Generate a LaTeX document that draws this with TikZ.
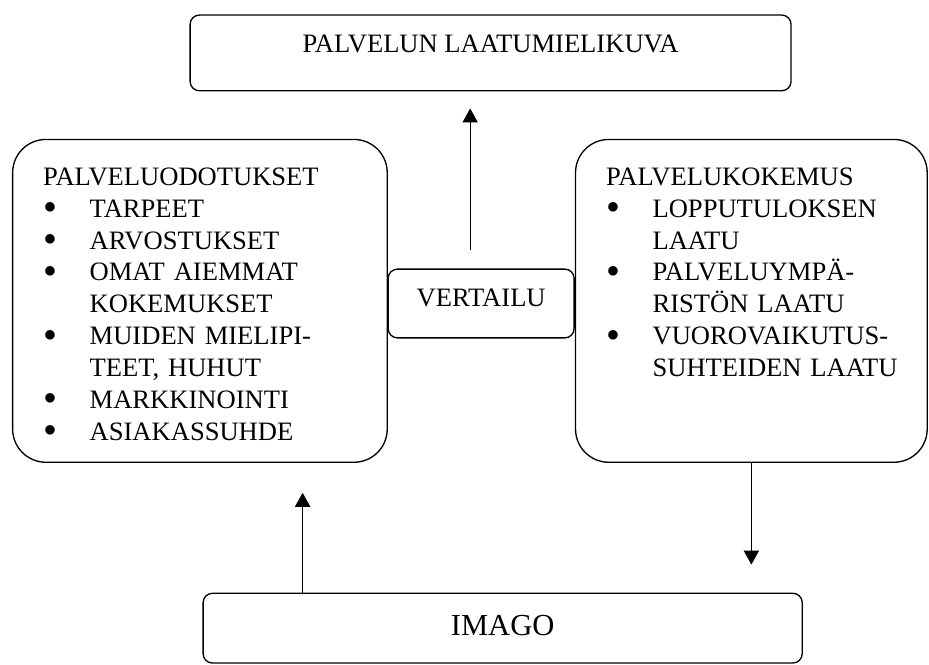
\documentclass[tikz,border=0pt]{standalone}
\usepackage{fontspec}
\usepackage{graphicx}
\setmainfont{Liberation Serif}
\usetikzlibrary{arrows.meta}
\newcommand{\bodyfont}{\fontsize{20}{24}\selectfont}
\newcommand{\bigdot}{\raisebox{-2.6pt}{\scalebox{1.5}{\textbullet}}}
\newcommand{\blitem}[1]{\makebox[35pt][l]{\bigdot}\mbox{#1}}
\newcommand{\blcont}[1]{\hspace*{35pt}\mbox{#1}}
\tikzset{
  qbox/.style={draw,line width=1pt,rounded corners=7pt,inner ysep=0pt,
    align=center},
  sbox/.style={draw,line width=1pt,rounded corners=25pt,inner xsep=23pt,
    inner ysep=0pt,align=left,text height=34.5pt,text depth=208.5pt},
  eflow/.style={-{Triangle[length=3.7mm,width=4mm]},line width=1pt},
}
\begin{document}
\begin{tikzpicture}[every node/.style={font=\bodyfont}]
\useasboundingbox (0,0) rectangle (24.58,-17.57);
% top: the resulting quality image
\node[qbox,minimum width=15.90cm,text height=28.5pt,text depth=28.5pt] (qual) at (12.98,-1.40) {PALVELUN LAATUMIELIKUVA};
% left: expectations
\node[sbox,text width=236pt] (odot) at (5.29,-7.96) {PALVELUODOTUKSET\\
  \blitem{TARPEET}\\
  \blitem{ARVOSTUKSET}\\
  \blitem{OMAT AIEMMAT}\\
  \blcont{KOKEMUKSET}\\
  \blitem{MUIDEN MIELIPI-}\\
  \blcont{TEET, HUHUT}\\
  \blitem{MARKKINOINTI}\\
  \blitem{ASIAKASSUHDE}};
% middle: comparison
\node[qbox,minimum width=4.92cm,text height=28.4pt,text depth=23.4pt] (cmp) at (12.73,-8.03) {VERTAILU};
% right: experience
\node[sbox,text width=218.75pt] (exp) at (19.88,-7.96) {PALVELUKOKEMUS\\
  \blitem{LOPPUTULOKSEN}\\
  \blcont{LAATU}\\
  \blitem{PALVELUYMPÄ-}\\
  \blcont{RISTÖN LAATU}\\
  \blitem{VUOROVAIKUTUS-}\\
  \blcont{SUHTEIDEN LAATU}};
% bottom: image
\node[qbox,minimum width=15.85cm,text height=31.5pt,text depth=21pt,
  font=\fontsize{23}{28}\selectfont] (imago) at (13.30,-16.62) {IMAGO};
% arrows
\draw[eflow,shorten <=0.5cm,shorten >=0.45cm] ([xshift=-0.29cm]cmp.north) -- ([xshift=-0.29cm]cmp.north |- qual.south);
\draw[eflow,shorten >=0.74cm] (exp.south) -- (exp.south |- imago.north);
\draw[eflow,shorten >=0.79cm] ([xshift=2.65cm]imago.north west) -- ([xshift=2.65cm]imago.north west |- odot.south);
\end{tikzpicture}
\end{document}
